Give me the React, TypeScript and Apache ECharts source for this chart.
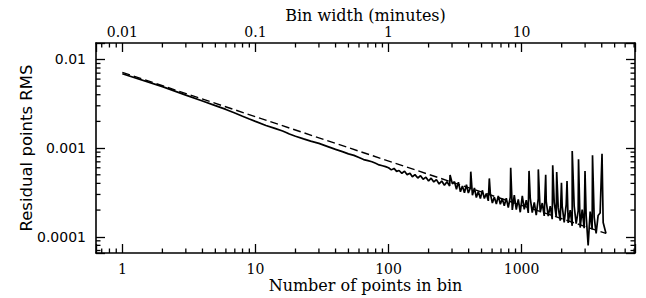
import React, { useEffect, useRef } from 'react';
import * as echarts from 'echarts';

const pointsInBin = [
  1, 2, 3, 4, 5, 6, 7, 8, 9, 10, 12, 14, 16, 17, 18, 20, 23, 26, 30, 35, 40, 45, 50, 55, 60, 65, 70, 75, 80, 85, 90, 95,
  100, 105, 110, 115, 120, 126, 132, 138, 145, 151, 158, 166, 174, 182, 191, 200, 209, 219, 229, 240, 251, 263, 275, 288,
  290, 302, 313, 324, 335, 347, 359, 372, 385, 398, 412, 415, 427, 442, 457, 473, 490, 507, 525, 543, 562, 572, 582, 603,
  624, 646, 668, 692, 716, 741, 767, 794, 822, 828, 851, 881, 912, 944, 977, 1012, 1047, 1084, 1122, 1137, 1161, 1202,
  1245, 1288, 1334, 1335, 1380, 1429, 1479, 1517, 1531, 1585, 1641, 1698, 1713, 1758, 1820, 1835, 1884, 1950, 1993, 2018,
  2089, 2163, 2194, 2239, 2317, 2399, 2400, 2483, 2570, 2661, 2677, 2754, 2851, 2951, 2995, 3055, 3162, 3273, 3388, 3410,
  3508, 3631, 3758, 3890, 4020, 4100, 4305,
];
const residualRms = [
  0.0069, 0.00493, 0.00396, 0.0034, 0.00301, 0.00273, 0.00249, 0.00229, 0.00213, 0.002, 0.0018, 0.00167, 0.00156,
  0.0015, 0.00144, 0.00136, 0.00127, 0.0012, 0.00113, 0.00104, 0.000968, 0.000912, 0.000861, 0.000828, 0.000783,
  0.000742, 0.000721, 0.000702, 0.000673, 0.000646, 0.000632, 0.000618,
  6.0e-4, 5.68e-4, 5.9e-4, 5.46e-4, 5.59e-4, 5.2e-4, 5.49e-4, 5.02e-4, 5.2e-4, 4.75e-4, 5.02e-4, 4.6e-4, 4.89e-4,
  4.46e-4, 4.7e-4, 4.25e-4, 4.58e-4, 4.15e-4, 4.41e-4, 3.93e-4, 4.25e-4, 3.81e-4, 4.17e-4, 3.74e-4,
  4.97e-4, 3.95e-4, 4.18e-4, 3.44e-4, 4.13e-4, 3.21e-4, 3.74e-4, 3.13e-4, 3.86e-4, 3.12e-4, 3.56e-4, 5.42e-4, 2.94e-4,
  3.55e-4, 2.77e-4, 3.24e-4, 2.7e-4, 3.34e-4, 2.7e-4, 3.08e-4, 2.54e-4, 4.55e-4, 3.07e-4, 2.4e-4,
  2.8e-4, 2.34e-4, 2.89e-4, 2.33e-4, 2.69e-4, 2.24e-4, 2.73e-4, 2.14e-4, 2.8e-4, 6.01e-4, 2.01e-4, 2.94e-4, 2.02e-4,
  2.64e-4, 1.89e-4, 2.9e-4, 2.04e-4, 2.59e-4, 1.86e-4, 5.53e-4, 2.73e-4, 1.87e-4,
  2.44e-4, 1.75e-4, 2.69e-4, 5.75e-4, 1.89e-4, 2.4e-4, 1.72e-4, 4.99e-4, 2.51e-4, 1.71e-4, 2.22e-4, 1.58e-4, 6.41e-4,
  2.42e-4, 1.68e-4, 5.36e-4, 2.13e-4, 1.52e-4, 4.07e-4, 2.22e-4,
  1.45e-4, 2.31e-4, 4.25e-4, 1.43e-4, 2.0e-4, 1.33e-4, 9.25e-4, 2.22e-4, 1.41e-4, 1.96e-4, 7.46e-4, 1.27e-4, 2.02e-4,
  1.25e-4, 5.5e-4, 1.73e-4, 0.8e-4, 1.92e-4, 1.21e-4, 8.28e-4,
  1.68e-4, 1.09e-4, 1.74e-4, 1.85e-4, 8.65e-4, 1.45e-4, 1.09e-4,
];

// Dashed reference line (white-noise expectation), two end points
const whiteNoiseN = [1, 4305];
const whiteNoiseRms = [0.00715, 0.000109];

// Axis ranges
const pointsMin = 0.634;
const pointsMax = 7112;
const minutesPerPoint = 0.01;
const rmsMin = 6.56e-5;
const rmsMax = 0.01532;

// Minor tick values
const xMinorTicks = [
  0.7, 0.8, 0.9, 2, 3, 4, 5, 6, 7, 8, 9, 20, 30, 40, 50, 60, 70, 80, 90, 200, 300, 400, 500, 600, 700, 800, 900, 2000,
  3000, 4000, 5000, 6000, 7000,
];
const yMinorTicks = [
  7e-5, 8e-5, 9e-5, 2e-4, 3e-4, 4e-4, 5e-4, 6e-4, 7e-4, 8e-4, 9e-4, 2e-3, 3e-3, 4e-3, 5e-3, 6e-3, 7e-3, 8e-3, 9e-3,
];

const SERIF = '"DejaVu Serif", serif';
const SANS = '"DejaVu Sans", sans-serif';

function powerLabel(v: number, asInteger: boolean): string {
  const l = Math.log10(v);
  const r = Math.round(l);
  if (Math.abs(l - r) > 1e-6) return '';
  if (r >= 0) return String(Math.round(Math.pow(10, r)));
  return asInteger ? '' : Math.pow(10, r).toFixed(-r);
}

export default function App() {
  const ref = useRef<HTMLDivElement>(null);
  useEffect(() => {
    if (!ref.current) return;
    const chart = echarts.init(ref.current, undefined, { renderer: 'svg' });
    const black = '#000';
    const majorLen = 9;
    const minorLen = 4.5;
    const tickW = 1.3;
    const tickStyle = { color: black, width: tickW };
    const frame = { show: true, onZero: false, lineStyle: { color: black, width: 1.6 } };

    const solid = pointsInBin.map((n, i) => [n, residualRms[i]]);
    const dashed = whiteNoiseN.map((n, i) => [n, whiteNoiseRms[i]]);

    chart.setOption({
      animation: false,
      backgroundColor: '#fff',
      grid: { left: 96, right: 11, top: 43, bottom: 45, containLabel: false, outerBoundsMode: 'none' },
      xAxis: [
        {
          type: 'log',
          min: pointsMin,
          max: pointsMax,
          position: 'bottom',
          axisLine: frame,
          axisTick: { show: true, inside: true, length: majorLen, lineStyle: tickStyle },
          splitLine: { show: false },
          axisLabel: {
            color: black,
            fontFamily: SERIF,
            fontSize: 14,
            margin: 9,
            formatter: (v: number) => powerLabel(v, true),
          },
          name: 'Number of points in bin',
          nameLocation: 'middle',
          nameGap: 24.5,
          nameMoveOverlap: false,
          nameTextStyle: { color: black, fontFamily: SERIF, fontSize: 16 },
        },
        {
          type: 'log',
          min: pointsMin * minutesPerPoint,
          max: pointsMax * minutesPerPoint,
          position: 'top',
          axisLine: frame,
          axisTick: { show: true, inside: true, length: majorLen, lineStyle: tickStyle },
          splitLine: { show: false },
          axisLabel: {
            color: black,
            fontFamily: SERIF,
            fontSize: 14,
            margin: 4,
            formatter: (v: number) => powerLabel(v, false),
          },
          name: 'Bin width (minutes)',
          nameLocation: 'middle',
          nameGap: 20,
          nameMoveOverlap: false,
          nameTextStyle: { color: black, fontFamily: SERIF, fontSize: 16 },
        },
      ],
      yAxis: [
        {
          type: 'log',
          min: rmsMin,
          max: rmsMax,
          position: 'left',
          axisLine: frame,
          axisTick: { show: true, inside: true, length: majorLen, lineStyle: tickStyle },
          splitLine: { show: false },
          axisLabel: {
            color: black,
            fontFamily: SANS,
            fontSize: 14,
            margin: 10,
            formatter: (v: number) => powerLabel(v, false),
          },
          name: 'Residual points RMS',
          nameLocation: 'middle',
          nameRotate: 90,
          nameGap: 61.5,
          nameMoveOverlap: false,
          nameTextStyle: { color: black, fontFamily: SANS, fontSize: 16.5 },
        },
        {
          type: 'log',
          min: rmsMin,
          max: rmsMax,
          position: 'right',
          axisLine: frame,
          axisTick: { show: true, inside: true, length: majorLen, lineStyle: tickStyle },
          splitLine: { show: false },
          axisLabel: { show: false },
        },
      ],
      series: [
        {
          type: 'line',
          data: dashed,
          xAxisIndex: 0,
          yAxisIndex: 0,
          symbol: 'none',
          silent: true,
          lineStyle: { color: black, width: 1.4, type: [8, 4] },
          z: 2,
        },
        {
          type: 'line',
          data: solid,
          xAxisIndex: 0,
          yAxisIndex: 0,
          symbol: 'none',
          silent: true,
          lineStyle: { color: black, width: 1.7 },
          z: 3,
        },
        {
          type: 'custom',
          xAxisIndex: 0,
          yAxisIndex: 0,
          silent: true,
          clip: false,
          data: xMinorTicks.map((v) => [v, 1e-3]),
          renderItem: (params: any, api: any) => {
            const cs = params.coordSys;
            const x = api.coord([api.value(0), api.value(1)])[0];
            const yb = cs.y + cs.height;
            const yt = cs.y;
            return {
              type: 'group',
              children: [
                { type: 'line', shape: { x1: x, y1: yb, x2: x, y2: yb - minorLen }, style: { stroke: black, lineWidth: tickW } },
                { type: 'line', shape: { x1: x, y1: yt, x2: x, y2: yt + minorLen }, style: { stroke: black, lineWidth: tickW } },
              ],
            };
          },
        },
        {
          type: 'custom',
          xAxisIndex: 0,
          yAxisIndex: 0,
          silent: true,
          clip: false,
          data: yMinorTicks.map((v) => [10, v]),
          renderItem: (params: any, api: any) => {
            const cs = params.coordSys;
            const y = api.coord([api.value(0), api.value(1)])[1];
            const xl = cs.x;
            const xr = cs.x + cs.width;
            return {
              type: 'group',
              children: [
                { type: 'line', shape: { x1: xl, y1: y, x2: xl + minorLen, y2: y }, style: { stroke: black, lineWidth: tickW } },
                { type: 'line', shape: { x1: xr, y1: y, x2: xr - minorLen, y2: y }, style: { stroke: black, lineWidth: tickW } },
              ],
            };
          },
        },
      ],
    });
    return () => chart.dispose();
  }, []);
  return (
    <div
      ref={ref}
      style={{ position: 'fixed', left: 0, top: 0, width: 646, height: 298, background: '#fff' }}
    />
  );
}
